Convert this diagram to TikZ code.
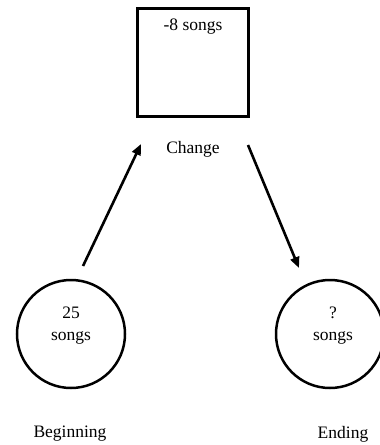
\documentclass[tikz,border=0pt]{standalone}
\usepackage{fontspec}
\setmainfont{Liberation Serif}
\usetikzlibrary{arrows.meta}
\begin{document}
\begin{tikzpicture}[x=1pt,y=-1pt,
  lbl/.style={font=\fontsize{17.5}{22}\selectfont, inner sep=0pt, align=center},
  shapebox/.style={draw, line width=2.8pt, minimum width=111pt, minimum height=108pt, inner sep=0pt},
  ring/.style={draw, circle, line width=2.5pt, minimum size=108pt, inner sep=0pt},
  arr/.style={line width=2.6pt, -{Triangle[length=11pt,width=9pt]}}]
\useasboundingbox (0,0) rectangle (380,445);
\node[shapebox] (box) at (193,62.5) {};
\node[lbl] (boxtxt) at (193,27) {-8 songs};
\node[lbl] (change) at (193,149) {Change};
\node[ring] (beg) at (71,334) {};
\node[lbl] (begtxt) at (71,326) {25\\songs};
\node[lbl] (beglbl) at (70,434) {Beginning};
\node[ring] (end) at (330,334) {};
\node[lbl] (endtxt) at (333,326) {?\\songs};
\node[lbl] (endlbl) at (343,434) {Ending};
\coordinate (a1s) at (83,266);
\coordinate (a1e) at (141,144);
\coordinate (a2s) at (248,145);
\coordinate (a2e) at (299,268);
\draw[arr] (a1s) -- (a1e);
\draw[arr] (a2s) -- (a2e);
\end{tikzpicture}
\end{document}
